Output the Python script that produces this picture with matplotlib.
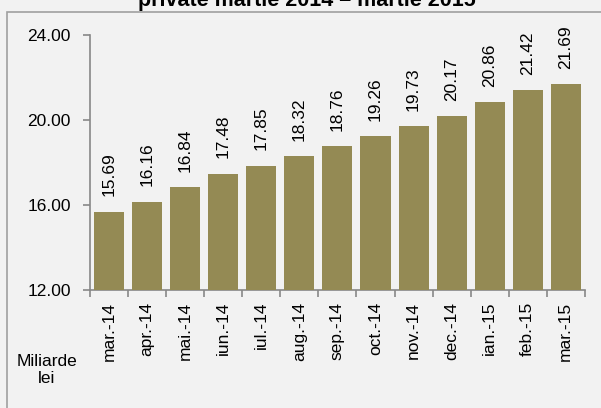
import matplotlib.pyplot as plt
from matplotlib.patches import Rectangle

# Data
months = ["mar.-14", "apr.-14", "mai.-14", "iun.-14", "iul.-14", "aug.-14", "sep.-14",
          "oct.-14", "nov.-14", "dec.-14", "ian.-15", "feb.-15", "mar.-15"]
values = [15.69, 16.16, 16.84, 17.48, 17.85, 18.32, 18.76,
          19.26, 19.73, 20.17, 20.86, 21.42, 21.69]
y_ticks = [12, 16, 20, 24]

BAR_COLOR = "#948a54"
BG = "#f2f2f2"
FS = 12.5

plt.rcParams['font.family'] = ['Liberation Sans', 'DejaVu Sans']

fig = plt.figure(figsize=(6.01, 4.08), dpi=100, facecolor=BG)
ax = fig.add_axes([0.150, 0.289, 0.823, 0.625])
ax.set_facecolor(BG)

# outer frame of the chart area
fig.patches.append(Rectangle((7 / 601, -0.01), 1.0, 1 - 11.5 / 408 + 0.01,
                             transform=fig.transFigure, fill=False,
                             edgecolor="#a0a0a0", lw=1.2, zorder=0))

x = list(range(len(months)))
ax.bar(x, values, width=0.79, color=BAR_COLOR, zorder=3)

for xi, v in zip(x, values):
    ax.annotate(f"{v:.2f}", (xi, v), xytext=(0, 11), textcoords="offset points",
                rotation=90, ha="center", va="bottom", fontsize=FS)

ax.set_xlim(-0.5, len(months) - 0.5)
ax.set_ylim(12, 24)
ax.set_yticks(y_ticks)
ax.set_yticklabels([f"{t:.2f}" for t in y_ticks], fontsize=FS)

ax.set_xticks([i - 0.5 for i in range(len(months) + 1)])
ax.set_xticklabels([])
ax.set_xticks(x, minor=True)
ax.set_xticklabels(months, minor=True, rotation=90, fontsize=FS)
ax.tick_params(axis="x", which="minor", length=0, pad=8.5)
ax.tick_params(axis="x", which="major", length=5, color="#888888", width=1.2)
ax.tick_params(axis="y", length=5, color="#888888", width=1.2, pad=9)

for s in ["top", "right"]:
    ax.spines[s].set_visible(False)
for s in ["left", "bottom"]:
    ax.spines[s].set_color("#888888")
    ax.spines[s].set_linewidth(1.2)

fig.text(47 / 601, 1 - 370 / 408, "Miliarde\nlei", ha="center", va="center",
         fontsize=FS, linespacing=1.15)

fig.text(307 / 601, 1 - 6 / 408, "private martie 2014 \u2013 martie 2015",
         ha="center", va="baseline", fontsize=15.5, fontweight="bold")

fig.savefig("out.png", dpi=100, facecolor=BG)
